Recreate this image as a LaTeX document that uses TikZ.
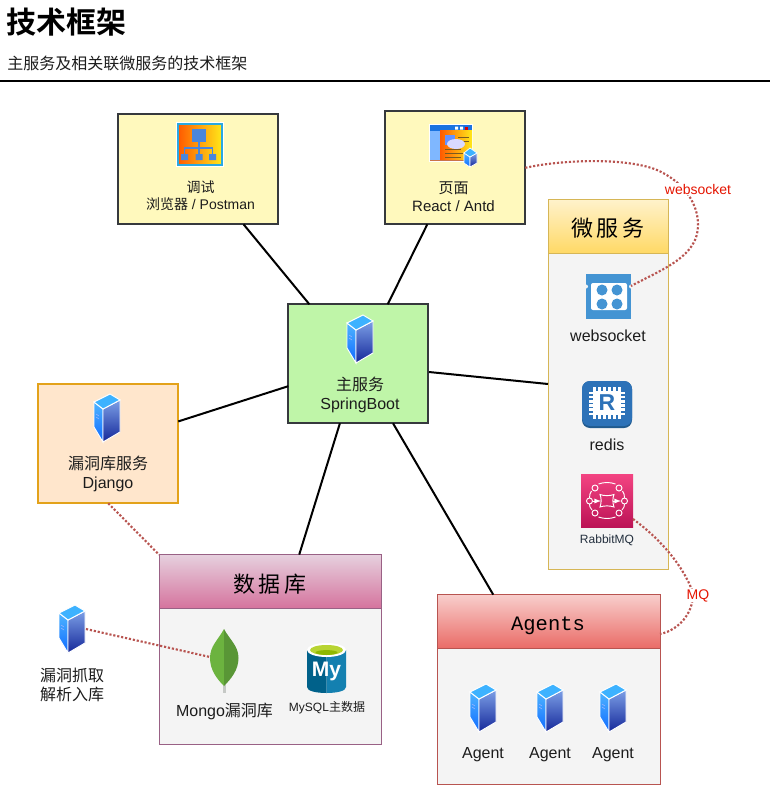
\documentclass[tikz,border=0pt]{standalone}
\usepackage{fontspec}
\setmainfont{Liberation Sans}
\newfontfamily\cjk{Noto Sans CJK SC}
\newfontfamily\cjkb{Noto Sans CJK SC Bold}
\newfontfamily\hdmono{Liberation Mono}
\newcommand{\cj}[1]{{\cjk #1}}
\newcommand{\fpx}[1]{\fontsize{\fpeval{#1*0.75}pt}{\fpeval{#1*0.89}pt}\selectfont}
\usetikzlibrary{calc}
\definecolor{dotred}{HTML}{B85450}
\definecolor{linkred}{HTML}{E51400}
\definecolor{panel}{HTML}{F4F4F4}
\definecolor{ink}{HTML}{1C1C1C}
\definecolor{yellowbox}{HTML}{FFF9BD}
\definecolor{boxedge}{HTML}{36393D}
\definecolor{mainbox}{HTML}{BFF5A8}
\definecolor{djangobox}{HTML}{FFE6CC}
\definecolor{djangoedge}{HTML}{E3A21A}
\definecolor{yelledge}{HTML}{D6B656}
\definecolor{yelltop}{HTML}{FFF2CC}
\definecolor{yellbot}{HTML}{FFD966}
\definecolor{pinkedge}{HTML}{996185}
\definecolor{pinktop}{HTML}{E6D0DE}
\definecolor{pinkbot}{HTML}{D5739D}
\definecolor{redtop}{HTML}{F8CECC}
\definecolor{redbot}{HTML}{EA6B66}
\definecolor{orange1}{HTML}{FF5A00}
\definecolor{yellow1}{HTML}{FFE81A}
\definecolor{iconblue}{HTML}{2AA9E0}
\definecolor{orgblue}{HTML}{4A86DC}
\definecolor{titleblue}{HTML}{1A73E0}
\definecolor{paneblue}{HTML}{7FB7FF}
\definecolor{panedge}{HTML}{C9744A}
\definecolor{panedark}{HTML}{7A5A20}
\definecolor{wsblue}{HTML}{4494D3}
\definecolor{redisblue}{HTML}{2D72B8}
\definecolor{redisdark}{HTML}{205A8E}
\definecolor{rabbittop}{HTML}{F34482}
\definecolor{rabbitbot}{HTML}{BC1356}
\definecolor{rabbitink}{HTML}{232F3E}
\definecolor{stemgrey}{HTML}{C6C9C6}
\definecolor{mongoL}{HTML}{6CB33F}
\definecolor{mongoR}{HTML}{599636}
\definecolor{sqlL}{HTML}{00618A}
\definecolor{sqlR}{HTML}{1480B0}
\definecolor{sqlgreen}{HTML}{B8D432}
\definecolor{sqlgreen2}{HTML}{8FB800}
\definecolor{HTMLa}{HTML}{4FB4FF}
\definecolor{HTMLb}{HTML}{0F6BFF}
\definecolor{HTMLc}{HTML}{7C9FE6}
\definecolor{HTMLd}{HTML}{15289A}
\definecolor{HTMLe}{HTML}{3DB2FF}
\tikzset{
  x=0.75pt,y=-0.75pt,
  bx/.style 2 args={minimum width=#1*0.75pt,minimum height=#2*0.75pt,inner sep=0pt,outer sep=0pt},
  solidbox/.style={draw=#1,line width=1.5pt},
  txt/.style={inner sep=0pt,align=center,text=ink,font=\fpx{#1}},
  link/.style={draw=black,line width=1.5pt},
  dotlink/.style={draw=dotred,line width=1.6pt,dash pattern=on 1.6pt off 1.4pt},
  linklabel/.style={inner sep=0.5pt,fill=white,text=linkred,font=\fpx{14}},
  hdr/.style={inner sep=0pt,text=black},
  serverpic/.pic={
    \shade[top color=HTMLa,bottom color=HTMLb,draw=white,line width=0.7pt] (1,8) -- (10,15) -- (10,48) -- (1,33) -- cycle;
    \shade[top color=HTMLc,bottom color=HTMLd,draw=white,line width=0.7pt] (10,15) -- (27,6) -- (27,38) -- (10,48) -- cycle;
    \fill[HTMLe,draw=white,line width=0.7pt] (1,8) -- (17,0) -- (27,6) -- (10,15) -- cycle;
    \draw[white!75!blue,line width=0.3pt] (3,20) -- (6,22) (3,23) -- (6,25);
  }
}
\begin{document}
\begin{tikzpicture}
\useasboundingbox (0,0) rectangle (770,785);
\fill[white] (0,0) rectangle (770,785);

% title
\node[anchor=west,inner sep=0pt,text=black] (title) at (6.5,22) {\fpx{30}\cjkb 技术框架};
\node[anchor=west,inner sep=0pt,text=ink] (subtitle) at (7,63) {\fpx{16}\cjk 主服务及相关联微服务的技术框架};
\coordinate (ruleL) at (0,81);
\coordinate (ruleR) at (770,81);
\draw[black,line width=1.5pt] (ruleL) -- (ruleR);

% boxes
\node[bx={160}{110},fill=yellowbox,solidbox=boxedge] (debug) at (198.3,169.3) {};
\node[bx={140}{113},fill=yellowbox,solidbox=boxedge] (page) at (455.3,167.8) {};
\node[bx={140}{119},fill=mainbox,solidbox=boxedge] (main) at (358.3,363.8) {};
\node[bx={140}{119},fill=djangobox,solidbox=djangoedge] (django) at (108.3,443.8) {};

% containers
\node[bx={120}{370},fill=panel,draw=yelledge,line width=0.75pt] (micro) at (608,384) {};
\node[bx={120}{54},top color=yelltop,bottom color=yellbot,draw=yelledge,line width=0.75pt] (microhead) at (608,226) {};
\node[hdr] (microtitle) at (608,228) {\fpx{22}\cjk 微\hspace{3pt}服\hspace{3pt}务};

\node[bx={222}{189.5},fill=panel,draw=pinkedge,line width=0.75pt] (db) at (270,649.4) {};
\node[bx={222}{54},top color=pinktop,bottom color=pinkbot,draw=pinkedge,line width=0.75pt] (dbhead) at (270,581.6) {};
\node[hdr] (dbtitle) at (270,584) {\fpx{22}\cjk 数\hspace{3pt}据\hspace{3pt}库};

\node[bx={223}{189.5},fill=panel,draw=dotred,line width=0.75pt] (agents) at (548.5,689.4) {};
\node[bx={223}{54},top color=redtop,bottom color=redbot,draw=dotred,line width=0.75pt] (agentshead) at (548.5,621.6) {};
\node[hdr] (agentstitle) at (548,625.5) {\fpx{20.5}\hdmono Agents};

% solid connectors
\draw[link] (debug) -- (main);
\draw[link] (page) -- (main);
\draw[link] (django) -- (main);
\draw[link] (main) -- (db);
\draw[link] (main) -- (agents);
\coordinate (microin) at (548,384);
\coordinate (mainout) at (429,372);
\draw[link] (mainout) -- (microin);

% debug icon
\node[bx={48}{45},fill=white] (debugicon) at (200,144.5) {};
\shade[left color=orange1,right color=yellow1,draw=iconblue,line width=0.9pt] (178,124) rectangle (222,165);
\fill[orgblue] (192,129) rectangle (206,142);
\draw[orgblue,line width=0.8pt] (199,142) -- (199,154) (184.5,154) -- (184.5,148) -- (212.5,148) -- (212.5,154);
\fill[orgblue] (181,154) rectangle (188,160) (195.5,154) rectangle (202.5,160) (209,154) rectangle (216,160);

% page icon
\node[bx={44}{38},fill=white] (pageicon) at (451,143) {};
\fill[titleblue] (430,125) rectangle (472,130.5);
\fill[white] (455,126.5) rectangle (458,129.5) (460,126.5) rectangle (463,129.5);
\fill[red!85!black] (465,126.5) rectangle (468,129.5);
\fill[paneblue] (430,130.5) rectangle (440,160);
\shade[left color=orange1,right color=yellow1] (440,130.5) rectangle (472,160);
\fill[panedge] (430,159.5) rectangle (472,160.5);
\fill[paneblue!80!blue] (445,135) rectangle (455,145);
\draw[panedark,line width=0.6pt] (458,137) -- (469,137) (458,141) -- (469,141) (445,149) -- (461,149) (445,153) -- (463,153) (445,157) -- (461,157);
\fill[white!85!blue] (456,144) ellipse (9 and 5);
\shade[top color=HTMLa,bottom color=HTMLb,draw=white,line width=0.5pt] (464,153) -- (470,157) -- (470,167) -- (464,163) -- cycle;
\shade[top color=HTMLc,bottom color=HTMLd,draw=white,line width=0.5pt] (470,157) -- (477,153) -- (477,163) -- (470,167) -- cycle;
\fill[HTMLe,draw=white,line width=0.5pt] (464,153) -- (470,148) -- (477,153) -- (470,157) -- cycle;

% labels in boxes
\node[txt=14] (debugtext) at (200.5,195.5) {\cj{调试}\\\cj{浏览器} / Postman};
\node[txt=15] (pagetext) at (453.5,196.5) {\cj{页面}\\React / Antd};
\pic at (346,315) {serverpic};
\node[txt=16] (maintext) at (360,394.5) {\cj{主服务}\\SpringBoot};
\pic at (93,394) {serverpic};
\node[txt=16] (djangotext) at (108,473.5) {\cj{漏洞库服务}\\Django};

% websocket icon
\node[bx={45}{45},fill=wsblue] (wsicon) at (608.5,296.5) {};
\fill[white,rounded corners=1.5pt] (591,283) rectangle (627,310);
\fill[panel] (586,286.5) circle (2) (631,286.5) circle (2);
\fill[wsblue] (602,290) circle (5.5) (617,290) circle (5.5) (602,304) circle (5.5) (617,304) circle (5.5);
\node[txt=16] (wstext) at (608,335.5) {websocket};

% redis icon
\fill[redisdark,rounded corners=6pt] (582,381) rectangle (632,428);
\node[bx={50}{45},fill=redisblue,rounded corners=6pt] (redisicon) at (607,403.5) {};
\fill[white] (594,391) rectangle (620,415);
\foreach \i in {0,1,2,3,4,5}{
  \fill[white] (593+\i*5,387) rectangle ++(3,32);
  \fill[white] (589,391.5+\i*4.2) rectangle ++(36,2.6);
}
\node[inner sep=0pt,text=redisblue] (redisR) at (607,403) {\fpx{23}\bfseries R};
\node[txt=16] (redistext) at (607,444.5) {redis};

% rabbit icon
\node[bx={52}{53},top color=rabbittop,bottom color=rabbitbot] (rabbiticon) at (607,500.5) {};
\begin{scope}[white,line width=0.7pt]
  \draw (595,488) circle (3) (619,488) circle (3) (589.5,501) circle (3) (624.5,501) circle (3) (595,513) circle (3) (619,513) circle (3);
  \draw (598.5,484) .. controls (604,482) and (610,482) .. (615.5,484);
  \draw (598.5,517) .. controls (604,519) and (610,519) .. (615.5,517);
  \draw (591.5,491) .. controls (590,493) and (589.5,495) .. (589.5,498);
  \draw (622.5,491) .. controls (624,493) and (624.5,495) .. (624.5,498);
  \draw (589.5,504) .. controls (589.5,506) and (590,508) .. (592,510);
  \draw (624.5,504) .. controls (624.5,506) and (624,508) .. (622,510);
  \draw (600,494.5) .. controls (604,496) and (610,496) .. (614,494.5) .. controls (612.5,498) and (612.5,503) .. (614,507) .. controls (610,505.5) and (604,505.5) .. (600,507) .. controls (601.5,503) and (601.5,498) .. (600,494.5) -- cycle;
  \draw[-latex] (593,501) -- (601,501);
  \draw[-latex] (613,501) -- (621,501);
\end{scope}
\node[txt=12,text=rabbitink] (rabbittext) at (607,540.5) {RabbitMQ};

% database contents
\node[bx={29}{56}] (mongoicon) at (224.5,657) {};
\fill[stemgrey] (223.2,680) rectangle (225.6,693);
\fill[mongoL] (224,629) .. controls (218,640) and (210,646) .. (210,658) .. controls (210,670) and (217,679) .. (224,686) -- cycle;
\fill[mongoR] (224,629) .. controls (230,640) and (238.5,646) .. (238.5,658) .. controls (238.5,670) and (231,679) .. (224,686) -- cycle;
\node[txt=16] (mongotext) at (224.5,711) {Mongo\cj{漏洞库}};

\node[bx={40}{50}] (mysqlicon) at (326.5,668) {};
\fill[sqlL] (307,650) -- (307,687) .. controls (307,691) and (316,693) .. (326.5,693) -- (326.5,650) -- cycle;
\fill[sqlR] (346,650) -- (346,687) .. controls (346,691) and (337,693) .. (326.5,693) -- (326.5,650) -- cycle;
\fill[white] (326.5,650) ellipse (19.5 and 7);
\fill[sqlgreen] (326.5,650) ellipse (16.5 and 5);
\fill[sqlgreen2] (326.5,652.5) ellipse (11 and 2.4);
\node[inner sep=0pt,text=white] (mysqlMy) at (326.5,671) {\fpx{21}\bfseries My};
\node[txt=12] (mysqltext) at (327,708) {MySQL\cj{主数据}};

% agents
\pic at (469,684) {serverpic};
\pic at (536,684) {serverpic};
\pic at (599,684) {serverpic};
\node[txt=16] (agent1) at (483,755) {Agent};
\node[txt=16] (agent2) at (550,755) {Agent};
\node[txt=16] (agent3) at (613,755) {Agent};

% leak import
\node[bx={28}{48}] (leakicon) at (72,629) {};
\pic at (58,605) {serverpic};
\node[txt=16] (leaktext) at (72,684.5) {\cj{漏洞抓取}\\\cj{解析入库}};

% dotted connectors
\draw[dotlink] (django.south) -- (dbhead.north west);
\draw[dotlink] (leakicon.east) -- (mongoicon.west);
\coordinate (rabbitout) at (633,519);
\coordinate (mqin) at (660,634);
\coordinate (wsin) at (631,286);
\draw[dotlink] (page.east) .. controls (560,160) and (625,157) .. (657,170)
  .. controls (680,180) and (698,200) .. (698,225)
  .. controls (698,256) and (665,268) .. (wsin);
\draw[dotlink] (rabbitout) .. controls (655,535) and (680,560) .. (692,590)
  .. controls (696,610) and (680,630) .. (mqin);
\node[linklabel,anchor=center] (wslabel) at (698,189) {websocket};
\node[linklabel,anchor=center] (mqlabel) at (698,595.5) {MQ};
\end{tikzpicture}
\end{document}
